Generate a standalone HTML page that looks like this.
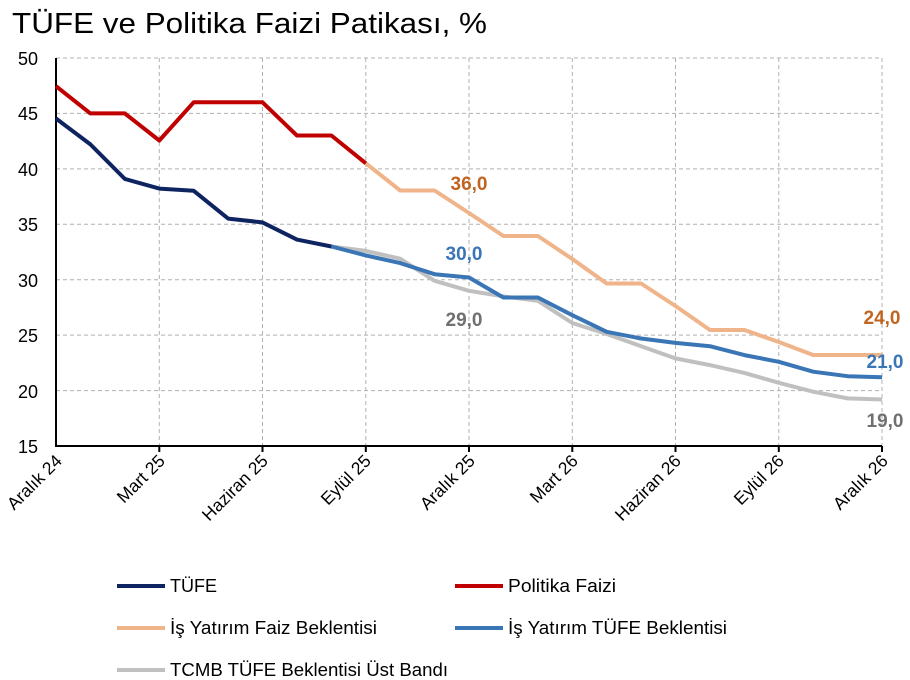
<!DOCTYPE html>
<html><head><meta charset="utf-8"><style>
body{margin:0;background:#fff;}
svg{display:block;font-family:"Liberation Sans",sans-serif;}
</style></head><body>
<svg width="910" height="680" viewBox="0 0 910 680">
<text x="12" y="33" font-size="29" fill="#000" textLength="475" lengthAdjust="spacingAndGlyphs">TÜFE ve Politika Faizi Patikası, %</text>
<g stroke="#b0b0b0" stroke-width="1" stroke-dasharray="4,3">
<line x1="56" y1="58" x2="882" y2="58"/><line x1="56" y1="113.4" x2="882" y2="113.4"/>
<line x1="56" y1="168.9" x2="882" y2="168.9"/><line x1="56" y1="224.3" x2="882" y2="224.3"/>
<line x1="56" y1="279.7" x2="882" y2="279.7"/><line x1="56" y1="335.1" x2="882" y2="335.1"/>
<line x1="56" y1="390.6" x2="882" y2="390.6"/>
<line x1="159.3" y1="58" x2="159.3" y2="446"/><line x1="262.5" y1="58" x2="262.5" y2="446"/>
<line x1="365.8" y1="58" x2="365.8" y2="446"/><line x1="469" y1="58" x2="469" y2="446"/>
<line x1="572.3" y1="58" x2="572.3" y2="446"/><line x1="675.5" y1="58" x2="675.5" y2="446"/>
<line x1="778.8" y1="58" x2="778.8" y2="446"/><line x1="882" y1="58" x2="882" y2="446"/>
</g>
<g stroke="#000" stroke-width="2">
<line x1="56" y1="58" x2="56" y2="447"/><line x1="55" y1="446" x2="882" y2="446"/>
<line x1="159.3" y1="446" x2="159.3" y2="452"/><line x1="262.5" y1="446" x2="262.5" y2="452"/>
<line x1="365.8" y1="446" x2="365.8" y2="452"/><line x1="469" y1="446" x2="469" y2="452"/>
<line x1="572.3" y1="446" x2="572.3" y2="452"/><line x1="675.5" y1="446" x2="675.5" y2="452"/>
<line x1="778.8" y1="446" x2="778.8" y2="452"/><line x1="882" y1="446" x2="882" y2="452"/>
</g>
<g font-size="18" text-anchor="end" fill="#000">
<text x="38" y="65">50</text><text x="38" y="120">45</text><text x="38" y="176">40</text>
<text x="38" y="231">35</text><text x="38" y="287">30</text><text x="38" y="342">25</text>
<text x="38" y="398">20</text><text x="38" y="453">15</text>
</g>
<g font-size="17.5" text-anchor="end" fill="#000">
<text transform="translate(63,462) rotate(-45)">Aralık 24</text>
<text transform="translate(166,462) rotate(-45)">Mart 25</text>
<text transform="translate(269,462) rotate(-45)">Haziran 25</text>
<text transform="translate(372,462) rotate(-45)">Eylül 25</text>
<text transform="translate(476,462) rotate(-45)">Aralık 25</text>
<text transform="translate(579,462) rotate(-45)">Mart 26</text>
<text transform="translate(682,462) rotate(-45)">Haziran 26</text>
<text transform="translate(785,462) rotate(-45)">Eylül 26</text>
<text transform="translate(889,462) rotate(-45)">Aralık 26</text>
</g>
<g fill="none" stroke-width="4" stroke-linejoin="round">
<polyline stroke="#f0b48a" points="365.8,163.3 400.2,190.5 434.6,190.5 469,213 503.4,236 537.9,236 572.3,259 606.7,283.5 641.1,283.5 675.5,306 709.9,330 744.4,330 778.8,342 813.2,355 847.6,355 882,355"/>
<polyline stroke="#c0c0c0" points="331.4,246.5 365.8,250.9 400.2,258.7 434.6,280.8 469,290.8 503.4,296.4 537.9,300.8 572.3,323 606.7,334 641.1,346.2 675.5,358.4 709.9,365.1 744.4,372.9 778.8,382.8 813.2,391.7 847.6,398.4 882,399.5"/>
<polyline stroke="#3a75b6" points="331.4,246.5 365.8,255.4 400.2,263.1 434.6,274.2 469,277.5 503.4,297.5 537.9,297.5 572.3,315.2 606.7,331.8 641.1,338.5 675.5,342.9 709.9,346.2 744.4,355.1 778.8,361.8 813.2,371.7 847.6,376.2 882,377.3"/>
<polyline stroke="#c00000" points="56,86.2 90.4,113.4 124.8,113.4 159.3,140.5 193.7,102.3 228.1,102.3 262.5,102.3 296.9,135.5 331.4,135.5 365.8,163.3"/>
<polyline stroke="#0e2460" points="56,118.5 90.4,144.4 124.8,178.9 159.3,188.6 193.7,190.8 228.1,218.6 262.5,222.4 296.9,239.6 331.4,246.5"/>
</g>
<g font-size="19" font-weight="bold" text-anchor="middle">
<text x="469" y="190" fill="#c06420">36,0</text>
<text x="464" y="260" fill="#3a75b6">30,0</text>
<text x="464" y="326" fill="#707070">29,0</text>
<text x="882" y="324" fill="#c06420">24,0</text>
<text x="885" y="368" fill="#3a75b6">21,0</text>
<text x="885" y="427" fill="#707070">19,0</text>
</g>
<g stroke-width="4">
<line x1="117" y1="586" x2="165" y2="586" stroke="#0e2460"/>
<line x1="455" y1="586" x2="503" y2="586" stroke="#c00000"/>
<line x1="117" y1="628" x2="165" y2="628" stroke="#f0b48a"/>
<line x1="455" y1="628" x2="503" y2="628" stroke="#3a75b6"/>
<line x1="117" y1="670" x2="165" y2="670" stroke="#c0c0c0"/>
</g>
<g font-size="18" fill="#000">
<text x="170" y="592">TÜFE</text>
<text x="508" y="592" textLength="108" lengthAdjust="spacingAndGlyphs">Politika Faizi</text>
<text x="170" y="634" textLength="207" lengthAdjust="spacingAndGlyphs">İş Yatırım Faiz Beklentisi</text>
<text x="508" y="634" textLength="219" lengthAdjust="spacingAndGlyphs">İş Yatırım TÜFE Beklentisi</text>
<text x="170" y="676" textLength="278" lengthAdjust="spacingAndGlyphs">TCMB TÜFE Beklentisi Üst Bandı</text>
</g>
</svg>
</body></html>
